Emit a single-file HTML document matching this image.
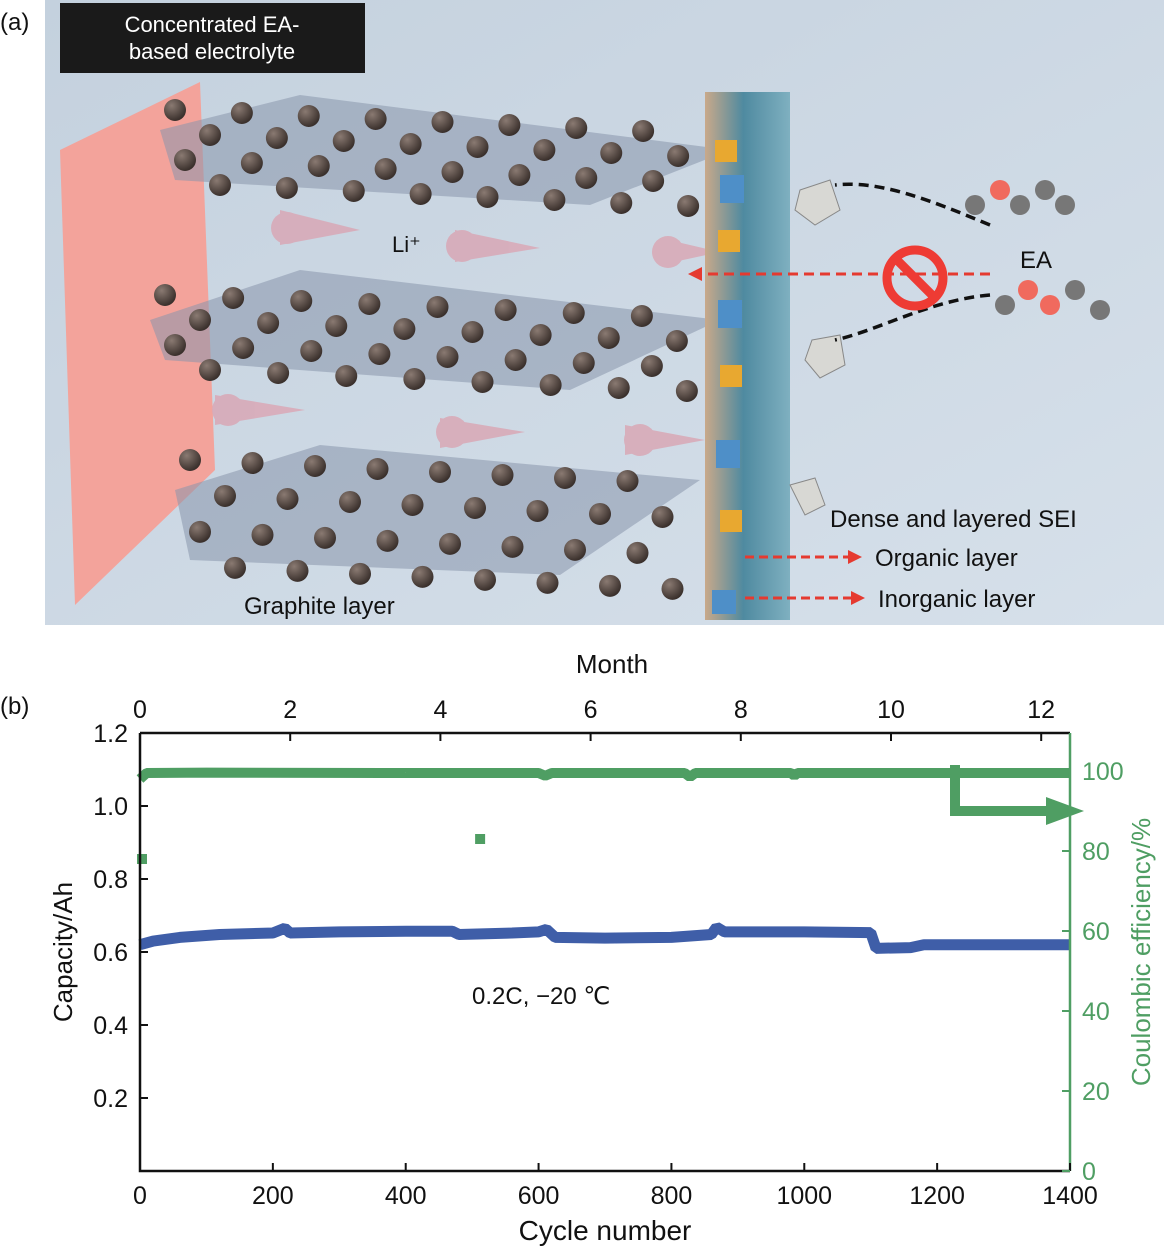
<!DOCTYPE html>
<html><head><meta charset="utf-8">
<style>
body{margin:0;background:#fff;width:1166px;height:1251px;overflow:hidden;font-family:"Liberation Sans",sans-serif;}
svg{display:block}
</style></head>
<body>
<svg width="1166" height="1251" viewBox="0 0 1166 1251">
<defs>
<linearGradient id="bg" x1="0" y1="0" x2="1" y2="1"><stop offset="0" stop-color="#c4d1de"/><stop offset="1" stop-color="#d6e0ea"/></linearGradient>
<linearGradient id="sei" x1="0" x2="1"><stop offset="0" stop-color="#c9a98a"/><stop offset="0.45" stop-color="#4f8aa0"/><stop offset="1" stop-color="#7fb0c0"/></linearGradient>
<radialGradient id="ball" cx="0.35" cy="0.3" r="0.7"><stop offset="0" stop-color="#8a7a72"/><stop offset="1" stop-color="#3a302c"/></radialGradient>
</defs>
<g>
<text x="0" y="30" font-size="24" fill="#111">(a)</text>
<rect x="45" y="0" width="1119" height="625" fill="url(#bg)"/>
<polygon points="60,150 200,82 215,470 75,605" fill="#f3a39b"/>
<polygon points="160,130 300,95 730,150 590,205 175,180" fill="#8896ab" opacity="0.55"/>
<polygon points="150,320 300,270 720,320 570,390 165,360" fill="#8896ab" opacity="0.55"/>
<polygon points="175,490 320,445 700,480 560,575 190,560" fill="#8896ab" opacity="0.55"/>
<g id="balls"></g>
<g fill="#d9a8b6" opacity="0.85">
<polygon points="280,210 360,230 280,245"/><circle cx="287" cy="228" r="16"/>
<polygon points="455,230 540,248 455,262"/><circle cx="462" cy="246" r="16"/>
<polygon points="660,238 720,252 660,265"/><circle cx="668" cy="252" r="16"/>
<polygon points="215,395 305,410 215,425"/><circle cx="228" cy="410" r="16"/>
<polygon points="440,418 525,432 440,448"/><circle cx="452" cy="432" r="16"/>
<polygon points="625,425 705,440 625,455"/><circle cx="640" cy="440" r="16"/>
</g>
<text x="392" y="252" font-size="22" fill="#111">Li⁺</text>
<rect x="705" y="92" width="85" height="528" fill="url(#sei)"/>
<g>
<rect x="715" y="140" width="22" height="22" fill="#e8a830"/><rect x="720" y="175" width="24" height="28" fill="#4e8fc8"/>
<rect x="718" y="230" width="22" height="22" fill="#e8a830"/><rect x="718" y="300" width="24" height="28" fill="#4e8fc8"/>
<rect x="720" y="365" width="22" height="22" fill="#e8a830"/><rect x="716" y="440" width="24" height="28" fill="#4e8fc8"/>
<rect x="720" y="510" width="22" height="22" fill="#e8a830"/><rect x="712" y="590" width="24" height="24" fill="#4e8fc8"/>
<polygon points="800,190 830,180 840,210 815,225 795,210" fill="#d8d8d4" stroke="#888"/>
<polygon points="812,340 840,335 845,365 820,378 805,360" fill="#d8d8d4" stroke="#888"/>
<polygon points="790,485 815,478 825,505 805,515" fill="#d8d8d4" stroke="#888"/>
</g>
<path d="M990,225 C930,200 880,180 835,185" stroke="#111" stroke-width="3.5" stroke-dasharray="10,6" fill="none"/>
<path d="M990,295 C930,300 880,330 835,340" stroke="#111" stroke-width="3.5" stroke-dasharray="10,6" fill="none"/>
<line x1="990" y1="274" x2="700" y2="274" stroke="#e53a30" stroke-width="3" stroke-dasharray="10,6"/>
<polygon points="688,274 702,267 702,281" fill="#e53a30"/>
<circle cx="915" cy="278" r="28" fill="none" stroke="#ee3b34" stroke-width="9"/>
<line x1="897" y1="260" x2="933" y2="296" stroke="#ee3b34" stroke-width="9"/>
<g>
<circle cx="975" cy="205" r="10" fill="#777"/><circle cx="1000" cy="190" r="10" fill="#f06a5e"/><circle cx="1020" cy="205" r="10" fill="#777"/><circle cx="1045" cy="190" r="10" fill="#777"/><circle cx="1065" cy="205" r="10" fill="#777"/>
<circle cx="1005" cy="305" r="10" fill="#777"/><circle cx="1028" cy="290" r="10" fill="#f06a5e"/><circle cx="1050" cy="305" r="10" fill="#f06a5e"/><circle cx="1075" cy="290" r="10" fill="#777"/><circle cx="1100" cy="310" r="10" fill="#777"/>
</g>
<text x="1020" y="268" font-size="24" fill="#111">EA</text>
<text x="830" y="527" font-size="24" fill="#111">Dense and layered SEI</text>
<line x1="745" y1="557" x2="850" y2="557" stroke="#e53a30" stroke-width="3" stroke-dasharray="9,5"/><polygon points="862,557 848,550 848,564" fill="#e53a30"/>
<text x="875" y="566" font-size="24" fill="#111">Organic layer</text>
<line x1="745" y1="598" x2="853" y2="598" stroke="#e53a30" stroke-width="3" stroke-dasharray="9,5"/><polygon points="865,598 851,591 851,605" fill="#e53a30"/>
<text x="878" y="607" font-size="24" fill="#111">Inorganic layer</text>
<text x="244" y="614" font-size="24" fill="#111">Graphite layer</text>
<rect x="60" y="3" width="305" height="70" fill="#1a1a1a"/>
<text x="212" y="32" font-size="22" fill="#fff" text-anchor="middle"><tspan x="212">Concentrated EA-</tspan><tspan x="212" dy="27">based electrolyte</tspan></text>
</g>
<text x="0" y="714" font-size="24" fill="#111">(b)</text>
<g id="chart"></g>
</svg>
<script>
const capCycles = [0, 20, 60, 120, 200, 218, 226, 300, 400, 470, 480, 560, 600, 612, 625, 700, 800, 860, 868, 880, 1000, 1100, 1108, 1160, 1180, 1300, 1400];
const capValues = [0.62, 0.63, 0.64, 0.648, 0.652, 0.665, 0.652, 0.655, 0.657, 0.657, 0.648, 0.652, 0.655, 0.662, 0.64, 0.638, 0.64, 0.648, 0.668, 0.655, 0.655, 0.653, 0.61, 0.612, 0.62, 0.62, 0.62];
const ceCycles = [0, 10, 100, 400, 600, 610, 620, 820, 828, 836, 850, 980, 985, 990, 1400];
const ceValues = [98, 99.5, 99.6, 99.5, 99.5, 98.8, 99.5, 99.5, 98.5, 99.5, 99.5, 99.5, 98.8, 99.5, 99.5];
const ceOutlierCycles = [3, 512];
const ceOutlierValues = [78, 83];
const xTicks = [0, 200, 400, 600, 800, 1000, 1200, 1400];
const yTicks = [0.2, 0.4, 0.6, 0.8, 1.0, 1.2];
const y2Ticks = [0, 20, 40, 60, 80, 100];
const monthTicks = [0, 2, 4, 6, 8, 10, 12];

const NS = "http://www.w3.org/2000/svg";
const X0 = 140, X1 = 1070, YT = 733, YB = 1171;
const xs = c => X0 + c / 1400 * (X1 - X0);
const ys = v => YB - v / 1.2 * (YB - YT);
const y2s = v => YB - v / 100 * (YB - 771);
const ms = m => X0 + m * 75.1;
const chart = document.getElementById('chart');
function mk(tag, attrs, parent) { const e = document.createElementNS(NS, tag); for (const k in attrs) e.setAttribute(k, attrs[k]); (parent || chart).appendChild(e); return e; }

const ce = mk('polyline', {points: ceCycles.map((c, i) => xs(c) + ',' + y2s(ceValues[i])).join(' '), fill: 'none', stroke: '#4f9e63', 'stroke-width': 10, 'stroke-linejoin': 'bevel'});


ceOutlierCycles.forEach((c, i) => {
  const r = mk('rect', {x: xs(c) - 5, y: y2s(ceOutlierValues[i]) - 5, width: 10, height: 10, fill: '#4f9e63'});
  
  
});
const cap = mk('polyline', {points: capCycles.map((c, i) => xs(c) + ',' + ys(capValues[i])).join(' '), fill: 'none', stroke: '#3f5ea8', 'stroke-width': 11, 'stroke-linejoin': 'bevel'});



const ax = mk('path', {d: `M${X0},${YT} L${X0},${YB} L${X1},${YB} M${X0},${YT} L${X1},${YT}`, stroke: '#111', 'stroke-width': 2.5, fill: 'none'});


const rax = mk('line', {x1: X1, y1: YT, x2: X1, y2: YB, stroke: '#4f9e63', 'stroke-width': 2.5});



xTicks.forEach(t => {
  mk('line', {x1: xs(t), y1: YB, x2: xs(t), y2: YB - 8, stroke: '#111', 'stroke-width': 2});
  const l = mk('text', {x: xs(t), y: YB + 33, 'font-size': 25, 'text-anchor': 'middle', fill: '#111'});
  l.textContent = t;
  
  
});
yTicks.forEach(t => {
  mk('line', {x1: X0, y1: ys(t), x2: X0 + 8, y2: ys(t), stroke: '#111', 'stroke-width': 2});
  const l = mk('text', {x: X0 - 12, y: ys(t) + 9, 'font-size': 25, 'text-anchor': 'end', fill: '#111'});
  l.textContent = t.toFixed(1);
  
  
});
y2Ticks.forEach(t => {
  mk('line', {x1: X1, y1: y2s(t), x2: X1 - 8, y2: y2s(t), stroke: '#4f9e63', 'stroke-width': 2});
  const l = mk('text', {x: X1 + 12, y: y2s(t) + 9, 'font-size': 25, fill: '#4f9e63'});
  l.textContent = t;
  
  
});
monthTicks.forEach(t => {
  mk('line', {x1: ms(t), y1: YT, x2: ms(t), y2: YT + 8, stroke: '#111', 'stroke-width': 2});
  const l = mk('text', {x: ms(t), y: YT - 15, 'font-size': 25, 'text-anchor': 'middle', fill: '#111'});
  l.textContent = t;
  
  
});
let t;
t = mk('text', {x: 612, y: 673, 'font-size': 26, 'text-anchor': 'middle', fill: '#111'}); t.textContent = 'Month';


t = mk('text', {x: 605, y: 1240, 'font-size': 28, 'text-anchor': 'middle', fill: '#111'}); t.textContent = 'Cycle number';


t = mk('text', {x: 0, y: 0, 'font-size': 26, 'text-anchor': 'middle', fill: '#111', transform: 'translate(72,952) rotate(-90)'}); t.textContent = 'Capacity/Ah';


t = mk('text', {x: 0, y: 0, 'font-size': 26, 'text-anchor': 'middle', fill: '#4f9e63', transform: 'translate(1150,952) rotate(-90)'}); t.textContent = 'Coulombic efficiency/%';


t = mk('text', {x: 472, y: 1004, 'font-size': 24, fill: '#111'}); t.textContent = '0.2C, −20 ℃';


const arr = mk('polyline', {points: '955,765 955,811 1050,811', stroke: '#4f9e63', 'stroke-width': 10, fill: 'none'});


const head = mk('polygon', {points: '1046,797 1084,811 1046,825', fill: '#4f9e63'});



const balls = document.getElementById('balls');


[[165, 115, 700, 195], [155, 300, 700, 380], [180, 465, 680, 580]].forEach(p => {
  for (let r = 0; r < 4; r++) for (let c = 0; c < 8; c++) {
    const x = p[0] + 10 + c * (p[2] - p[0]) / 8 + (r % 2) * 30 + r * 5;
    const y = p[1] - 5 + r * (p[3] - p[1]) / 3.2 + c * 3;
    mk('circle', {cx: x, cy: y, r: 11, fill: 'url(#ball)'}, balls);
  }
});
</script>
</body></html>
